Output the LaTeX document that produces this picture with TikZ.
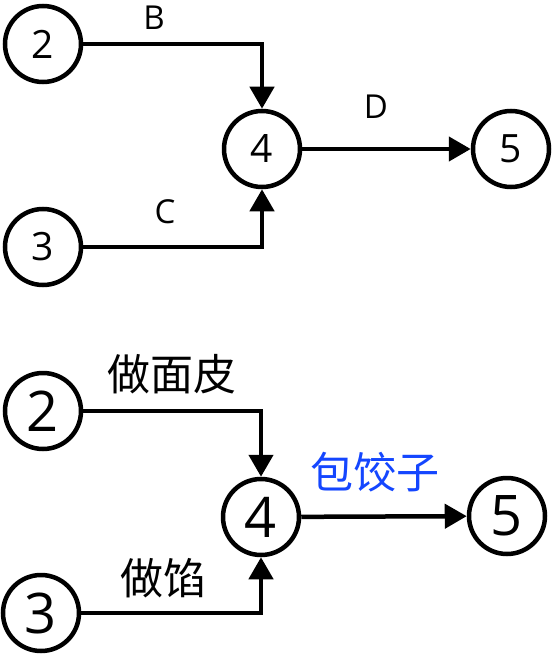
\documentclass[tikz,border=0pt]{standalone}
\usepackage{fontspec}
\setmainfont{Open Sans}
\newfontfamily\cjkfont{Noto Sans CJK SC}
\usetikzlibrary{arrows.meta}
\definecolor{labelblue}{RGB}{20,70,255}
\begin{document}
\begin{tikzpicture}[x=1pt,y=-1pt,
  evt/.style={circle,draw,line width=4.5pt,minimum size=76pt,inner sep=0pt},
  evts/.style={evt,font=\fontsize{39}{39}\selectfont},
  evtb/.style={evt,font=\fontsize{56}{56}\selectfont},
  conn/.style={line width=4.5pt,-{Triangle[width=24pt,length=22pt]}},
  lbls/.style={font=\fontsize{33}{33}\selectfont},
  lblb/.style={font=\cjkfont\fontsize{43}{43}\selectfont}]
\useasboundingbox (0,0) rectangle (552,658);
% top
\node[evts] (a2) at (43,44) {2};
\node[evts] (a3) at (43,247) {3};
\node[evts] (a4) at (262,149) {4};
\node[evts] (a5) at (511,149) {5};
\draw[conn] (a2.east) -| (a4.north);
\draw[conn] (a3.east) -| (a4.south);
\draw[conn] (a4) -- (a5);
\node[lbls] (lB) at (154,18) {B};
\node[lbls] (lC) at (165,212) {C};
\node[lbls] (lD) at (376,107) {D};
% bottom
\node[evtb] (b2) at (43,411) {2};
\node[evtb] (b3) at (41,613) {3};
\node[evtb] (b4) at (261,517) {4};
\node[evtb] (b5) at (507,516) {5};
\draw[conn] (b2.east) -| (b4.north);
\draw[conn] (b3.east) -| (b4.south);
\draw[conn] (b4) -- (b5);
\node[lblb] (lp) at (172,374) {做面皮};
\node[lblb] (lx) at (163,578) {做馅};
\node[lblb,text=labelblue] (lj) at (375,472) {包饺子};
\end{tikzpicture}
\end{document}
